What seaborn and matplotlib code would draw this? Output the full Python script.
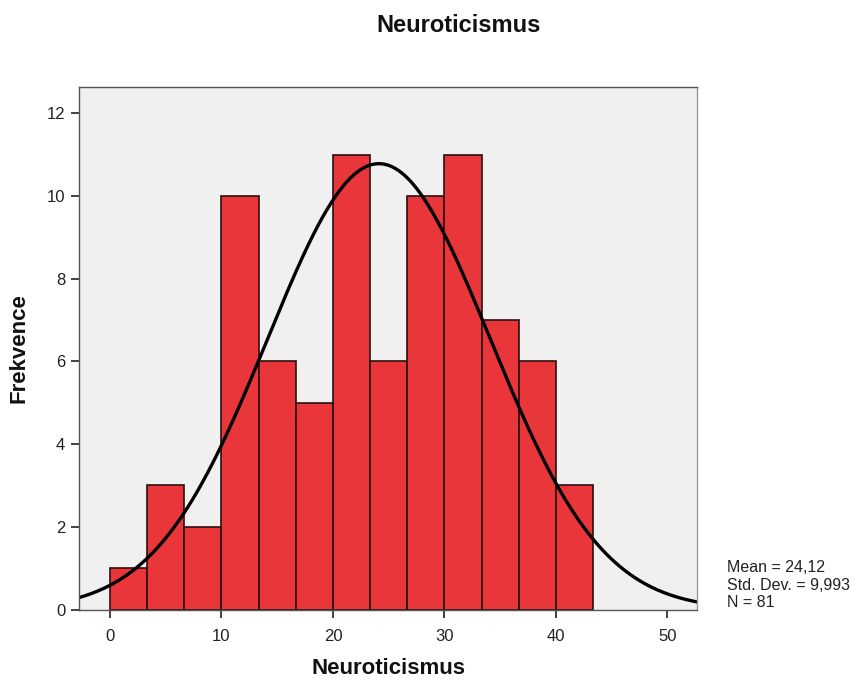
import numpy as np
import pandas as pd
import matplotlib
matplotlib.use("Agg")
import matplotlib.pyplot as plt
import seaborn as sns

# Histogram bins (width 10/3) and their frequencies
bin_edges = [0, 10/3, 20/3, 10, 40/3, 50/3, 20, 70/3, 80/3, 30, 100/3, 110/3, 40, 130/3]
counts = [1, 3, 2, 10, 6, 5, 11, 6, 10, 11, 7, 6, 3]

mean_val = 24.12
std_val = 9.993
n_val = 81

title = "Neuroticismus"
x_label = "Neuroticismus"
y_label = "Frekvence"
x_ticks = [0, 10, 20, 30, 40, 50]
y_ticks = [0, 2, 4, 6, 8, 10, 12]
stat_lines = ["Mean = 24,12", "Std. Dev. = 9,993", "N = 81"]

sns.set_theme(style="white")
plt.rcParams["font.family"] = ["Liberation Sans", "DejaVu Sans"]

fig = plt.figure(figsize=(8.57, 6.82), dpi=100)
ax = fig.add_axes([0.0922, 0.1063, 0.7211, 0.7666])
ax.set_facecolor("#F0F0F0")

centers = [(a + b) / 2 for a, b in zip(bin_edges[:-1], bin_edges[1:])]
df = pd.DataFrame({"value": centers, "count": counts})
sns.histplot(data=df, x="value", weights="count", bins=bin_edges, ax=ax,
             color="#E8363A", alpha=1.0, edgecolor="#2A1010", linewidth=1.2)

# Normal curve scaled to counts
bw = bin_edges[1] - bin_edges[0]
xs = np.linspace(-2.8, 52.7, 400)
ys = n_val * bw / (std_val * np.sqrt(2 * np.pi)) * np.exp(-0.5 * ((xs - mean_val) / std_val) ** 2)
sns.lineplot(x=xs, y=ys, ax=ax, color="black", linewidth=2.4)

ax.set_xlim(-2.78, 52.65)
ax.set_ylim(0, 12.64)
ax.set_xticks(x_ticks)
ax.set_yticks(y_ticks)
ax.tick_params(axis="both", direction="out", length=6, width=1.3, color="#333333",
               labelsize=12, labelcolor="#222222", bottom=True, left=True, pad=4)
ax.tick_params(axis="x", pad=8)
for s in ax.spines.values():
    s.set_color("#555555")
    s.set_linewidth(1.0)
ax.spines["right"].set_color("#9A9A9A")

ax.set_xlabel(x_label, fontsize=16, fontweight="bold", color="#111111", labelpad=10)
ax.set_ylabel(y_label, fontsize=16, fontweight="bold", color="#111111", labelpad=12)
fig.text(459 / 857, 1 - 25 / 682, title, ha="center", va="center",
         fontsize=17, fontweight="bold", color="#111111")

fig.text(727 / 857, 1 - 585 / 682, "\n".join(stat_lines), ha="left", va="center",
         fontsize=11.5, color="#222222", linespacing=1.2)

fig.savefig("out.png", dpi=100)
